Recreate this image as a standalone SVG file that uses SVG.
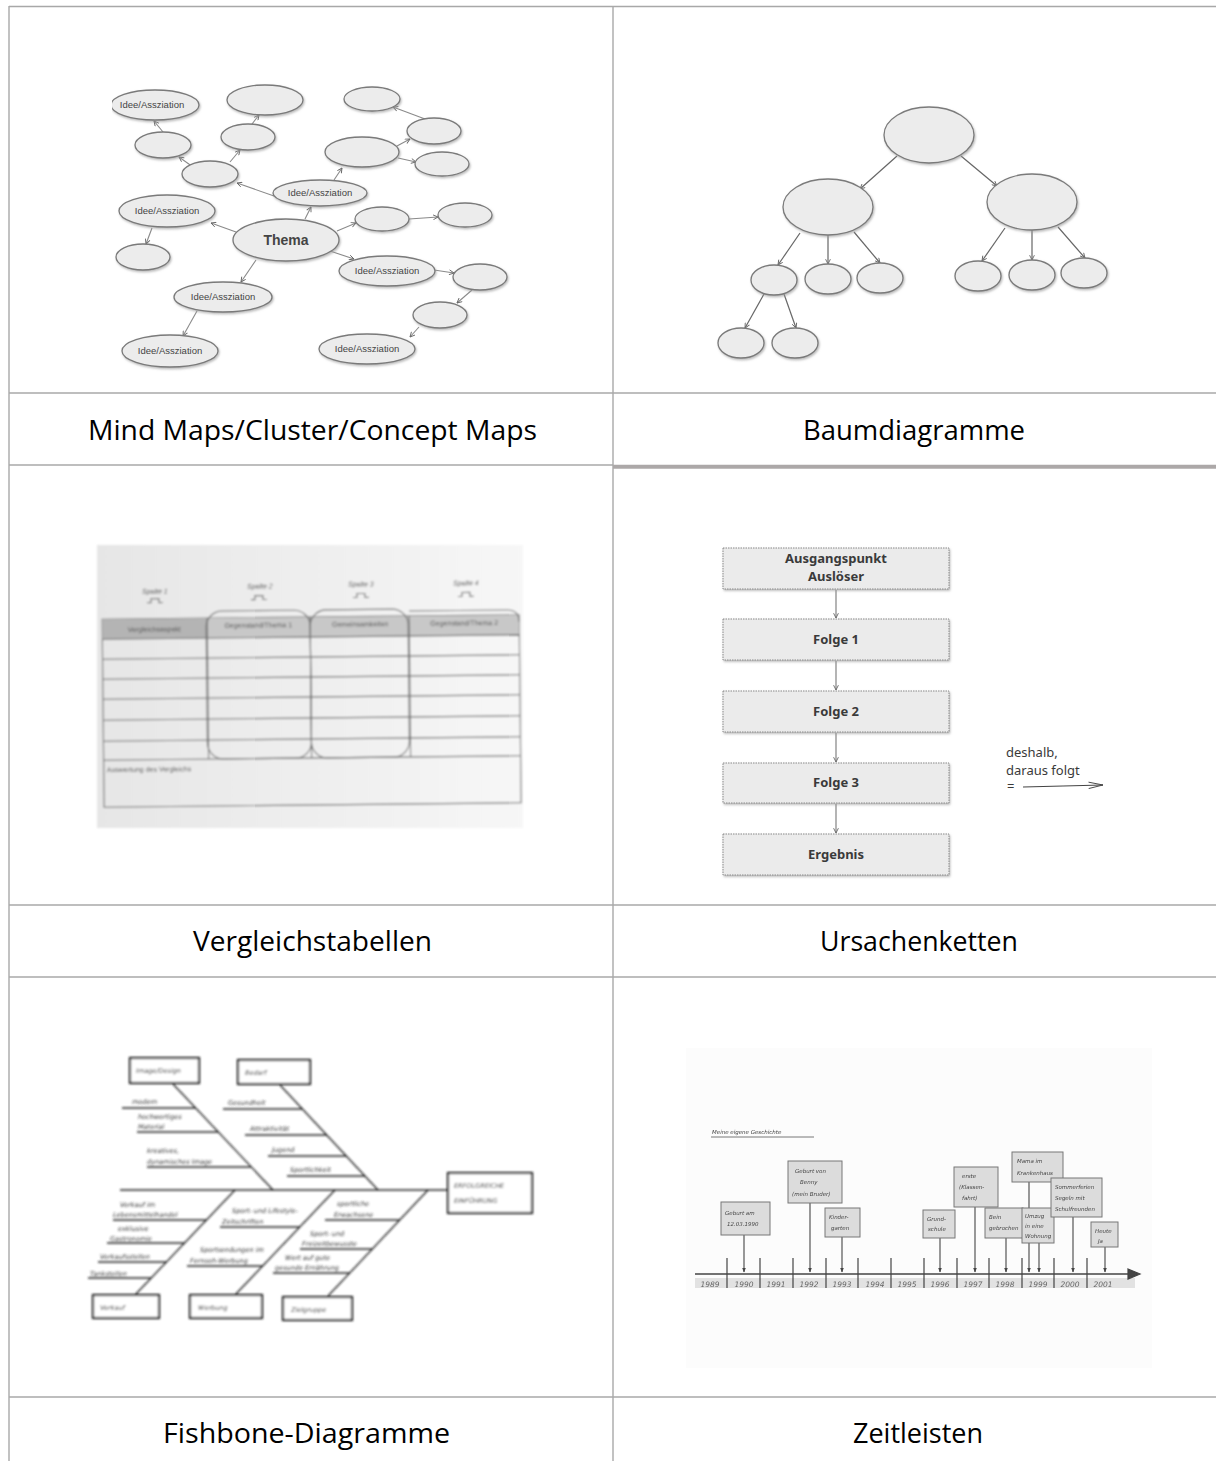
<svg xmlns="http://www.w3.org/2000/svg" width="1216" height="1461" viewBox="0 0 1216 1461">
  <defs>
    <style>
      .grid { stroke: #a8a8a8; stroke-width: 1.4; fill: none; }
      .cap { font-family: "Open Sans", "Liberation Sans", sans-serif; font-size: 28px; fill: #000; text-anchor: middle; }
      .bub { fill: #ececec; stroke: #7a7a7a; stroke-width: 1.3; filter: url(#shadow); }
      .mm-link { stroke: #8a8a8a; stroke-width: 1.1; fill: none; marker-end: url(#vee); }
      .mm-txt { font-family: "Liberation Sans", sans-serif; font-size: 9.5px; fill: #444; text-anchor: middle; }
      .tree-link { stroke: #666; stroke-width: 1.2; fill: none; marker-end: url(#vee); }
      .chain-box { fill: #ebebeb; stroke: #8a8a8a; stroke-width: 1; stroke-dasharray: 1.5 1; filter: url(#shadow); }
      .chain-txt { font-family: "Noto Sans", "DejaVu Sans", sans-serif; font-weight: bold; font-size: 13px; fill: #3a3a3a; text-anchor: middle; }
      .chain-link { stroke: #777; stroke-width: 1.1; fill: none; marker-end: url(#vee); }
      .tb { stroke: #6e6e6e; stroke-width: 1.1; fill: none; }
      .tb-txt { font-family: "Liberation Sans", sans-serif; font-size: 7px; fill: #555; text-anchor: middle; }
      .tb-left { font-family: "Liberation Sans", sans-serif; font-size: 7px; fill: #555; text-anchor: start; }
      .fb { stroke: #222; stroke-width: 1.3; fill: none; }
      .fb-box { stroke: #222; stroke-width: 2.2; fill: #fff; }
      .fb-txt { font-family: "DejaVu Sans", sans-serif; font-style: italic; font-size: 6.5px; fill: #333; }
      .tl-box { fill: #dcdcdc; stroke: #777; stroke-width: 1; }
      .tl-txt { font-family: "DejaVu Sans", sans-serif; font-style: italic; font-size: 5.5px; fill: #444; }
      .tl-arrow { stroke: #444; stroke-width: 1.1; fill: none; marker-end: url(#tri); }
      .tl-year { font-family: "DejaVu Sans", sans-serif; font-style: italic; font-size: 7.5px; fill: #666; text-anchor: middle; }
    </style>
    <filter id="shadow" x="-20%" y="-20%" width="140%" height="150%">
      <feDropShadow dx="1" dy="1.5" stdDeviation="1" flood-color="#9a9a9a" flood-opacity="0.7"/>
    </filter>
    <filter id="soft" x="-5%" y="-5%" width="110%" height="110%">
      <feGaussianBlur stdDeviation="0.9"/>
    </filter>
    <filter id="soft2" x="-5%" y="-5%" width="110%" height="110%">
      <feGaussianBlur stdDeviation="0.5"/>
    </filter>
    <marker id="vee" viewBox="0 0 10 10" refX="9" refY="5" markerWidth="6" markerHeight="6" orient="auto" markerUnits="userSpaceOnUse">
      <path d="M1,1 L9,5 L1,9" fill="none" stroke="#666" stroke-width="1.5"/>
    </marker>
    <marker id="vee-long" viewBox="0 0 20 10" refX="19" refY="5" markerWidth="16" markerHeight="8" orient="auto" markerUnits="userSpaceOnUse">
      <path d="M1,1 L19,5 L1,9" fill="none" stroke="#444" stroke-width="1.2"/>
    </marker>
    <marker id="tri" viewBox="0 0 10 10" refX="9" refY="5" markerWidth="5" markerHeight="5" orient="auto" markerUnits="userSpaceOnUse">
      <path d="M0,1 L10,5 L0,9 Z" fill="#444"/>
    </marker>
    <linearGradient id="paper" x1="0" y1="0" x2="1" y2="0">
      <stop offset="0" stop-color="#e6e6e6"/>
      <stop offset="1" stop-color="#f7f7f7"/>
    </linearGradient>
    <clipPath id="mm-clip">
      <rect x="112" y="70" width="410" height="310"/>
    </clipPath>
  </defs>

  <rect width="1216" height="1461" fill="#fff"/>

  <!-- table grid -->
  <g id="grid">
    <line class="grid" x1="9" y1="6.5" x2="1216" y2="6.5"/>
    <line class="grid" x1="9" y1="6" x2="9" y2="1461"/>
    <line class="grid" x1="613" y1="6" x2="613" y2="1461"/>
    <line class="grid" x1="9" y1="393" x2="1216" y2="393"/>
    <line class="grid" x1="9" y1="465" x2="613" y2="465"/>
    <line x1="613" y1="466.8" x2="1216" y2="466.8" stroke="#aca8a8" stroke-width="4"/>
    <line class="grid" x1="9" y1="905" x2="1216" y2="905"/>
    <line class="grid" x1="9" y1="977" x2="1216" y2="977"/>
    <line class="grid" x1="9" y1="1397" x2="1216" y2="1397"/>
  </g>

  <!-- captions -->
  <g id="captions">
    <text class="cap" x="312.5" y="440" textLength="449" lengthAdjust="spacingAndGlyphs">Mind Maps/Cluster/Concept Maps</text>
    <text class="cap" x="914" y="440" textLength="222" lengthAdjust="spacingAndGlyphs">Baumdiagramme</text>
    <text class="cap" x="312.5" y="951" textLength="239" lengthAdjust="spacingAndGlyphs">Vergleichstabellen</text>
    <text class="cap" x="919" y="951" textLength="198" lengthAdjust="spacingAndGlyphs">Ursachenketten</text>
    <text class="cap" x="306.5" y="1443" textLength="287" lengthAdjust="spacingAndGlyphs">Fishbone-Diagramme</text>
    <text class="cap" x="918" y="1443" textLength="130" lengthAdjust="spacingAndGlyphs">Zeitleisten</text>
  </g>

  <!-- mind map -->
  <g id="mindmap" clip-path="url(#mm-clip)">
    <g id="mm-connectors">
      <line class="mm-link" x1="163" y1="132" x2="154" y2="121"/>
      <line class="mm-link" x1="193" y1="167" x2="179" y2="157"/>
      <line class="mm-link" x1="230" y1="162" x2="240" y2="150"/>
      <line class="mm-link" x1="252" y1="124" x2="259" y2="115"/>
      <line class="mm-link" x1="274" y1="196" x2="237" y2="183"/>
      <line class="mm-link" x1="334" y1="180" x2="342" y2="168"/>
      <line class="mm-link" x1="397" y1="146" x2="410" y2="139"/>
      <line class="mm-link" x1="425" y1="119" x2="393" y2="107"/>
      <line class="mm-link" x1="398" y1="158" x2="416" y2="162"/>
      <line class="mm-link" x1="305" y1="219" x2="311" y2="207"/>
      <line class="mm-link" x1="236" y1="232" x2="211" y2="223"/>
      <line class="mm-link" x1="152" y1="228" x2="146" y2="244"/>
      <line class="mm-link" x1="337" y1="231" x2="356" y2="223"/>
      <line class="mm-link" x1="409" y1="219" x2="438" y2="217"/>
      <line class="mm-link" x1="330" y1="251" x2="354" y2="259"/>
      <line class="mm-link" x1="434" y1="270" x2="454" y2="273"/>
      <line class="mm-link" x1="472" y1="290" x2="457" y2="303"/>
      <line class="mm-link" x1="419" y1="327" x2="410" y2="337"/>
      <line class="mm-link" x1="256" y1="260" x2="241" y2="282"/>
      <line class="mm-link" x1="197" y1="311" x2="183" y2="336"/>
    </g>
    <g id="mm-n1"><ellipse class="bub" cx="155" cy="105" rx="44" ry="15"/><text class="mm-txt" x="152" y="108">Idee/Assziation</text></g>
    <g id="mm-n2"><ellipse class="bub" cx="265" cy="100" rx="38" ry="15"/></g>
    <g id="mm-n3"><ellipse class="bub" cx="163" cy="145" rx="28" ry="13"/></g>
    <g id="mm-n4"><ellipse class="bub" cx="248" cy="137" rx="27" ry="13"/></g>
    <g id="mm-n5"><ellipse class="bub" cx="210" cy="174" rx="28" ry="13"/></g>
    <g id="mm-n6"><ellipse class="bub" cx="372" cy="99" rx="28" ry="12"/></g>
    <g id="mm-n7"><ellipse class="bub" cx="434" cy="131" rx="27" ry="13"/></g>
    <g id="mm-n8"><ellipse class="bub" cx="362" cy="152" rx="37" ry="15"/></g>
    <g id="mm-n9"><ellipse class="bub" cx="442" cy="164" rx="27" ry="12"/></g>
    <g id="mm-n10"><ellipse class="bub" cx="320" cy="193" rx="47" ry="13"/><text class="mm-txt" x="320" y="196">Idee/Assziation</text></g>
    <g id="mm-n11"><ellipse class="bub" cx="167" cy="211" rx="48" ry="16"/><text class="mm-txt" x="167" y="214">Idee/Assziation</text></g>
    <g id="mm-n12"><ellipse class="bub" cx="286" cy="240" rx="53" ry="21" stroke="#555" stroke-width="1.6"/><text x="286" y="245" font-family="Liberation Sans, sans-serif" font-size="14" font-weight="bold" fill="#444" text-anchor="middle">Thema</text></g>
    <g id="mm-n13"><ellipse class="bub" cx="382" cy="219" rx="27" ry="12"/></g>
    <g id="mm-n14"><ellipse class="bub" cx="465" cy="215" rx="27" ry="12"/></g>
    <g id="mm-n15"><ellipse class="bub" cx="143" cy="257" rx="27" ry="13"/></g>
    <g id="mm-n16"><ellipse class="bub" cx="387" cy="271" rx="48" ry="15"/><text class="mm-txt" x="387" y="274">Idee/Assziation</text></g>
    <g id="mm-n17"><ellipse class="bub" cx="480" cy="277" rx="27" ry="13"/></g>
    <g id="mm-n18"><ellipse class="bub" cx="223" cy="297" rx="49" ry="15"/><text class="mm-txt" x="223" y="300">Idee/Assziation</text></g>
    <g id="mm-n19"><ellipse class="bub" cx="440" cy="315" rx="27" ry="13"/></g>
    <g id="mm-n20"><ellipse class="bub" cx="170" cy="351" rx="48" ry="16"/><text class="mm-txt" x="170" y="354">Idee/Assziation</text></g>
    <g id="mm-n21"><ellipse class="bub" cx="367" cy="349" rx="48" ry="15"/><text class="mm-txt" x="367" y="352">Idee/Assziation</text></g>
  </g>

  <!-- tree diagram -->
  <g id="tree">
    <g id="tree-connectors">
      <line class="tree-link" x1="897" y1="156" x2="860" y2="189"/>
      <line class="tree-link" x1="961" y1="156" x2="997" y2="186"/>
      <line class="tree-link" x1="800" y1="233" x2="778" y2="265"/>
      <line class="tree-link" x1="828" y1="235" x2="828" y2="264"/>
      <line class="tree-link" x1="854" y1="232" x2="880" y2="263"/>
      <line class="tree-link" x1="1005" y1="228" x2="982" y2="261"/>
      <line class="tree-link" x1="1032" y1="230" x2="1032" y2="260"/>
      <line class="tree-link" x1="1058" y1="227" x2="1085" y2="258"/>
      <line class="tree-link" x1="764" y1="294" x2="745" y2="328"/>
      <line class="tree-link" x1="784" y1="294" x2="796" y2="328"/>
    </g>
    <ellipse id="tree-root" class="bub" cx="929" cy="135" rx="45" ry="28"/>
    <ellipse id="tree-l" class="bub" cx="828" cy="207" rx="45" ry="28"/>
    <ellipse id="tree-r" class="bub" cx="1032" cy="202" rx="45" ry="28"/>
    <ellipse id="tree-l1" class="bub" cx="774" cy="280" rx="23" ry="15"/>
    <ellipse id="tree-l2" class="bub" cx="828" cy="279" rx="23" ry="15"/>
    <ellipse id="tree-l3" class="bub" cx="880" cy="278" rx="23" ry="15"/>
    <ellipse id="tree-r1" class="bub" cx="978" cy="276" rx="23" ry="15"/>
    <ellipse id="tree-r2" class="bub" cx="1032" cy="275" rx="23" ry="15"/>
    <ellipse id="tree-r3" class="bub" cx="1084" cy="273" rx="23" ry="15"/>
    <ellipse id="tree-l1a" class="bub" cx="741" cy="343" rx="23" ry="15"/>
    <ellipse id="tree-l1b" class="bub" cx="795" cy="343" rx="23" ry="15"/>
  </g>

  <!-- comparison table -->
  <g id="comparison" filter="url(#soft)">
    <rect x="97" y="545" width="426" height="283" fill="url(#paper)"/>
    <g transform="rotate(-0.6 312 700)">
      <rect x="103" y="617" width="417" height="188" fill="#fdfdfd" class="tb"/>
      <rect x="103" y="617" width="105" height="20" fill="#b4b4b4"/>
      <rect x="208" y="617" width="312" height="20" fill="#c8c8c8"/>
      <line class="tb" x1="103" y1="637" x2="520" y2="637"/>
      <line class="tb" x1="103" y1="657" x2="520" y2="657"/>
      <line class="tb" x1="103" y1="677" x2="520" y2="677"/>
      <line class="tb" x1="103" y1="697" x2="520" y2="697"/>
      <line class="tb" x1="103" y1="718" x2="520" y2="718"/>
      <line class="tb" x1="103" y1="739" x2="520" y2="739" stroke="#9a9a9a"/>
      <line class="tb" x1="103" y1="758" x2="520" y2="758"/>
      <line class="tb" x1="208" y1="617" x2="208" y2="758"/>
      <line class="tb" x1="311" y1="617" x2="311" y2="758"/>
      <line class="tb" x1="410" y1="617" x2="410" y2="758"/>
      <rect class="tb" x="207" y="610" width="104" height="148" rx="16" stroke-width="1.4"/>
      <rect class="tb" x="311" y="610" width="98" height="148" rx="16" stroke-width="1.4"/>
      <path class="tb" d="M410,612 H508 Q520,612 520,624" stroke-width="1.3"/>
      <text class="tb-txt" x="155" y="630">Vergleichsaspekt</text>
      <text class="tb-txt" x="259" y="627">Gegenstand/Thema 1</text>
      <text class="tb-txt" x="361" y="627">Gemeinsamkeiten</text>
      <text class="tb-txt" x="465" y="627">Gegenstand/Thema 2</text>
      <text class="tb-left" x="106" y="770">Auswertung des Vergleichs</text>
      <g font-style="italic">
        <text class="tb-txt" x="156" y="592">Spalte 1</text>
        <text class="tb-txt" x="261" y="588">Spalte 2</text>
        <text class="tb-txt" x="362" y="587">Spalte 3</text>
        <text class="tb-txt" x="467" y="587">Spalte 4</text>
      </g>
      <g class="tb" stroke-width="0.9">
        <path d="M148,601 H152 V597 H160 V601 H164"/>
        <path d="M252,599 H256 V595 H264 V599 H268"/>
        <path d="M354,598 H358 V594 H366 V598 H370"/>
        <path d="M459,598 H463 V594 H471 V598 H475"/>
      </g>
    </g>
  </g>

  <!-- cause chain -->
  <g id="chain">
    <g id="chain-connectors">
      <line class="chain-link" x1="836" y1="590" x2="836" y2="618"/>
      <line class="chain-link" x1="836" y1="661" x2="836" y2="690"/>
      <line class="chain-link" x1="836" y1="733" x2="836" y2="762"/>
      <line class="chain-link" x1="836" y1="804" x2="836" y2="833"/>
      <line x1="1023" y1="787" x2="1103" y2="785" stroke="#444" stroke-width="1.1" marker-end="url(#vee-long)"/>
    </g>
    <g id="chain-start"><rect class="chain-box" x="723" y="548" width="226" height="41"/>
      <text class="chain-txt" x="836" y="563">Ausgangspunkt</text>
      <text class="chain-txt" x="836" y="581">Auslöser</text></g>
    <g id="chain-f1"><rect class="chain-box" x="723" y="619" width="226" height="41"/><text class="chain-txt" x="836" y="644">Folge 1</text></g>
    <g id="chain-f2"><rect class="chain-box" x="723" y="691" width="226" height="41"/><text class="chain-txt" x="836" y="716">Folge 2</text></g>
    <g id="chain-f3"><rect class="chain-box" x="723" y="763" width="226" height="40"/><text class="chain-txt" x="836" y="787">Folge 3</text></g>
    <g id="chain-end"><rect class="chain-box" x="723" y="834" width="226" height="41"/><text class="chain-txt" x="836" y="859">Ergebnis</text></g>
    <g id="chain-legend" font-family="Noto Sans, DejaVu Sans, sans-serif" font-size="13" fill="#3a3a3a">
      <text x="1006" y="757">deshalb,</text>
      <text x="1006" y="775">daraus folgt</text>
      <text x="1007" y="791">=</text>
    </g>
  </g>

  <!-- fishbone -->
  <g id="fishbone" filter="url(#soft)">
    <g id="fb-bones" class="fb">
      <line x1="120" y1="1190" x2="448" y2="1190"/>
      <line x1="173" y1="1084" x2="273" y2="1190"/>
      <line x1="280" y1="1085" x2="378" y2="1190"/>
      <line x1="135" y1="1295" x2="235" y2="1190"/>
      <line x1="235" y1="1295" x2="335" y2="1190"/>
      <line x1="328" y1="1296" x2="428" y2="1190"/>
      <line x1="122" y1="1108" x2="195" y2="1108"/>
      <line x1="137" y1="1132" x2="218" y2="1132"/>
      <line x1="147" y1="1167" x2="251" y2="1167"/>
      <line x1="223" y1="1109" x2="302" y2="1109"/>
      <line x1="245" y1="1135" x2="327" y2="1135"/>
      <line x1="268" y1="1156" x2="346" y2="1156"/>
      <line x1="287" y1="1176" x2="365" y2="1176"/>
      <line x1="113" y1="1220" x2="206" y2="1220"/>
      <line x1="107" y1="1243" x2="184" y2="1243"/>
      <line x1="98" y1="1262" x2="166" y2="1262"/>
      <line x1="88" y1="1278" x2="151" y2="1278"/>
      <line x1="220" y1="1227" x2="300" y2="1227"/>
      <line x1="187" y1="1266" x2="263" y2="1266"/>
      <line x1="325" y1="1220" x2="400" y2="1220"/>
      <line x1="300" y1="1249" x2="372" y2="1249"/>
      <line x1="273" y1="1273" x2="350" y2="1273"/>
    </g>
    <g id="fb-head"><rect class="fb-box" x="448" y="1173" width="84" height="40"/>
      <text class="fb-txt" x="454" y="1188" font-size="7.5">ERFOLGREICHE</text>
      <text class="fb-txt" x="454" y="1203" font-size="7.5">EINFÜHRUNG</text></g>
    <g id="fb-image"><rect class="fb-box" x="130" y="1058" width="69" height="25"/><text class="fb-txt" x="136" y="1073">Image/Design</text></g>
    <g id="fb-bedarf"><rect class="fb-box" x="238" y="1060" width="72" height="24"/><text class="fb-txt" x="245" y="1075">Bedarf</text></g>
    <g id="fb-verkauf"><rect class="fb-box" x="93" y="1295" width="66" height="23"/><text class="fb-txt" x="100" y="1310">Verkauf</text></g>
    <g id="fb-werbung"><rect class="fb-box" x="190" y="1295" width="72" height="23"/><text class="fb-txt" x="198" y="1310">Werbung</text></g>
    <g id="fb-ziel"><rect class="fb-box" x="283" y="1297" width="69" height="23"/><text class="fb-txt" x="291" y="1312">Zielgruppe</text></g>
    <g id="fb-causes">
      <text class="fb-txt" x="132" y="1104">modern</text>
      <text class="fb-txt" x="138" y="1119">hochwertiges</text>
      <text class="fb-txt" x="138" y="1129">Material</text>
      <text class="fb-txt" x="147" y="1153">kreatives,</text>
      <text class="fb-txt" x="147" y="1164">dynamisches Image</text>
      <text class="fb-txt" x="228" y="1105">Gesundheit</text>
      <text class="fb-txt" x="250" y="1131">Attraktivität</text>
      <text class="fb-txt" x="272" y="1152">Jugend</text>
      <text class="fb-txt" x="290" y="1172">Sportlichkeit</text>
      <text class="fb-txt" x="120" y="1207">Verkauf im</text>
      <text class="fb-txt" x="113" y="1217">Lebensmittelhandel</text>
      <text class="fb-txt" x="118" y="1231">exklusive</text>
      <text class="fb-txt" x="110" y="1241">Gastronomie</text>
      <text class="fb-txt" x="100" y="1259">Verkaufsstellen</text>
      <text class="fb-txt" x="90" y="1276">Tankstellen</text>
      <text class="fb-txt" x="232" y="1213">Sport- und Lifestyle-</text>
      <text class="fb-txt" x="222" y="1224">Zeitschriften</text>
      <text class="fb-txt" x="200" y="1252">Sportsendungen im</text>
      <text class="fb-txt" x="190" y="1263">Fernseh-Werbung</text>
      <text class="fb-txt" x="337" y="1206">sportliche</text>
      <text class="fb-txt" x="334" y="1217">Erwachsene</text>
      <text class="fb-txt" x="310" y="1236">Sport- und</text>
      <text class="fb-txt" x="302" y="1246">Freizeitbewusste</text>
      <text class="fb-txt" x="285" y="1260">Wert auf gute</text>
      <text class="fb-txt" x="275" y="1270">gesunde Ernährung</text>
    </g>
  </g>

  <!-- timeline -->
  <g id="timeline" filter="url(#soft2)">
    <rect x="686" y="1048" width="466" height="320" fill="#fcfcfc"/>
    <text class="tl-txt" x="712" y="1134" font-size="8">Meine eigene Geschichte</text>
    <line x1="711" y1="1137" x2="814" y2="1137" stroke="#555" stroke-width="0.8"/>
    <rect x="695" y="1278" width="440" height="10" fill="#e2e2e2"/>
    <g id="tl-axis" stroke="#444" stroke-width="1.2">
      <line x1="695" y1="1274" x2="1131" y2="1274" stroke-width="1.6"/>
      <path d="M1128,1269 L1140,1274 L1128,1279 Z" fill="#444"/>
      <line x1="727" y1="1258" x2="727" y2="1288"/>
      <line x1="760" y1="1258" x2="760" y2="1288"/>
      <line x1="793" y1="1258" x2="793" y2="1288"/>
      <line x1="826" y1="1258" x2="826" y2="1288"/>
      <line x1="858" y1="1258" x2="858" y2="1288"/>
      <line x1="891" y1="1258" x2="891" y2="1288"/>
      <line x1="924" y1="1258" x2="924" y2="1288"/>
      <line x1="957" y1="1258" x2="957" y2="1288"/>
      <line x1="989" y1="1258" x2="989" y2="1288"/>
      <line x1="1022" y1="1258" x2="1022" y2="1288"/>
      <line x1="1054" y1="1258" x2="1054" y2="1288"/>
      <line x1="1087" y1="1258" x2="1087" y2="1288"/>
    </g>
    <g id="tl-years">
      <text class="tl-year" x="710" y="1287">1989</text>
      <text class="tl-year" x="744" y="1287">1990</text>
      <text class="tl-year" x="776" y="1287">1991</text>
      <text class="tl-year" x="809" y="1287">1992</text>
      <text class="tl-year" x="842" y="1287">1993</text>
      <text class="tl-year" x="875" y="1287">1994</text>
      <text class="tl-year" x="907" y="1287">1995</text>
      <text class="tl-year" x="940" y="1287">1996</text>
      <text class="tl-year" x="973" y="1287">1997</text>
      <text class="tl-year" x="1005" y="1287">1998</text>
      <text class="tl-year" x="1038" y="1287">1999</text>
      <text class="tl-year" x="1070" y="1287">2000</text>
      <text class="tl-year" x="1103" y="1287">2001</text>
    </g>
    <g id="tl-connectors">
      <line class="tl-arrow" x1="744" y1="1235" x2="744" y2="1272"/>
      <line class="tl-arrow" x1="810" y1="1203" x2="810" y2="1272"/>
      <line class="tl-arrow" x1="842" y1="1237" x2="842" y2="1272"/>
      <line class="tl-arrow" x1="940" y1="1238" x2="940" y2="1272"/>
      <line class="tl-arrow" x1="975" y1="1207" x2="975" y2="1272"/>
      <line class="tl-arrow" x1="1006" y1="1238" x2="1006" y2="1272"/>
      <line class="tl-arrow" x1="1029" y1="1182" x2="1029" y2="1272"/>
      <line class="tl-arrow" x1="1039" y1="1243" x2="1039" y2="1272"/>
      <line class="tl-arrow" x1="1073" y1="1217" x2="1073" y2="1272"/>
      <line class="tl-arrow" x1="1105" y1="1247" x2="1105" y2="1272"/>
    </g>
    <g id="tl-e1"><rect class="tl-box" x="721" y="1202" width="49" height="33"/><text class="tl-txt" x="725" y="1215">Geburt am</text><text class="tl-txt" x="727" y="1226">12.03.1990</text></g>
    <g id="tl-e2"><rect class="tl-box" x="788" y="1161" width="54" height="42"/><text class="tl-txt" x="795" y="1173">Geburt von</text><text class="tl-txt" x="800" y="1184">Benny</text><text class="tl-txt" x="792" y="1196">(mein Bruder)</text></g>
    <g id="tl-e3"><rect class="tl-box" x="825" y="1208" width="35" height="29"/><text class="tl-txt" x="829" y="1219">Kinder-</text><text class="tl-txt" x="831" y="1230">garten</text></g>
    <g id="tl-e4"><rect class="tl-box" x="923" y="1210" width="32" height="28"/><text class="tl-txt" x="927" y="1221">Grund-</text><text class="tl-txt" x="928" y="1231">schule</text></g>
    <g id="tl-e5"><rect class="tl-box" x="954" y="1167" width="44" height="40"/><text class="tl-txt" x="962" y="1178">erste</text><text class="tl-txt" x="959" y="1189">(Klassen-</text><text class="tl-txt" x="962" y="1200">fahrt)</text></g>
    <g id="tl-e6"><rect class="tl-box" x="985" y="1208" width="38" height="30"/><text class="tl-txt" x="989" y="1219">Bein</text><text class="tl-txt" x="989" y="1230">gebrochen</text></g>
    <g id="tl-e7"><rect class="tl-box" x="1012" y="1152" width="51" height="30"/><text class="tl-txt" x="1017" y="1163">Mama im</text><text class="tl-txt" x="1017" y="1175">Krankenhaus</text></g>
    <g id="tl-e8"><rect class="tl-box" x="1022" y="1208" width="32" height="35"/><text class="tl-txt" x="1025" y="1218">Umzug</text><text class="tl-txt" x="1025" y="1228">in eine</text><text class="tl-txt" x="1025" y="1238">Wohnung</text></g>
    <g id="tl-e9"><rect class="tl-box" x="1051" y="1178" width="51" height="39"/><text class="tl-txt" x="1055" y="1189">Sommerferien</text><text class="tl-txt" x="1055" y="1200">Segeln mit</text><text class="tl-txt" x="1055" y="1211">Schulfreunden</text></g>
    <g id="tl-e10"><rect class="tl-box" x="1091" y="1222" width="27" height="25"/><text class="tl-txt" x="1095" y="1233">Heute</text><text class="tl-txt" x="1098" y="1243">Ja</text></g>
  </g>
</svg>
